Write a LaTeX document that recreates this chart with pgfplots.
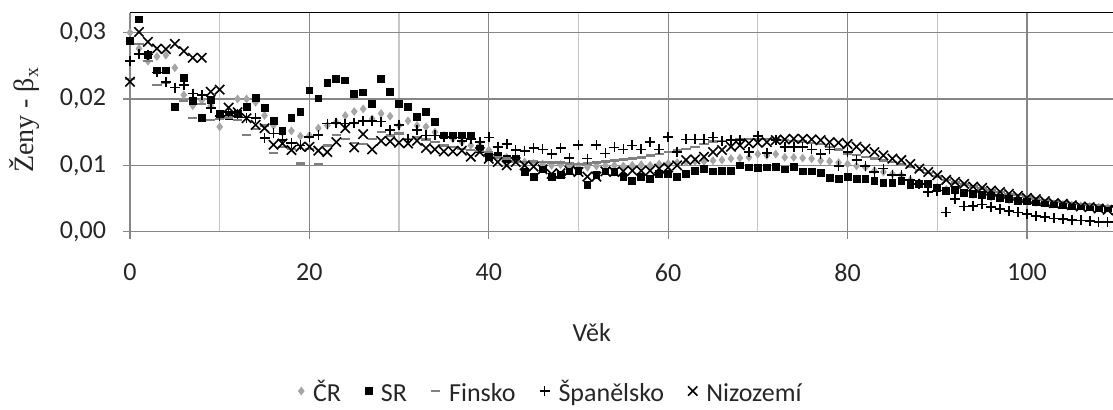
\documentclass[border=0pt]{standalone}
\usepackage{pgfplots}
\pgfplotsset{compat=1.18}
\usepackage{pgfplotstable}
\usepackage{fontspec}
\setmainfont{Carlito}
\newfontfamily\seriffont{Liberation Serif}
\definecolor{gridmaj}{HTML}{868686}
\definecolor{gridmin}{HTML}{C6C6C6}
\definecolor{crgray}{HTML}{A6A6A6}
\definecolor{figray}{HTML}{808080}
\definecolor{txt}{HTML}{262626}

\pgfplotstableread{
age cr sr fi es nl
0 0.0300 0.0288 0.0230 0.0257 0.0226
1 0.0276 0.0320 0.0283 0.0268 0.0301
2 0.0257 0.0266 0.0257 0.0267 0.0286
3 0.0264 0.0243 0.0221 0.0240 0.0276
4 0.0266 0.0243 0.0225 0.0226 0.0275
5 0.0247 0.0188 0.0200 0.0217 0.0283
6 0.0206 0.0232 0.0197 0.0221 0.0272
7 0.0190 0.0197 0.0171 0.0208 0.0262
8 0.0198 0.0172 0.0192 0.0206 0.0262
9 0.0190 0.0198 0.0168 0.0186 0.0211
10 0.0158 0.0178 0.0170 0.0174 0.0214
11 0.0175 0.0175 0.0172 0.0180 0.0187
12 0.0200 0.0178 0.0168 0.0178 0.0180
13 0.0200 0.0188 0.0146 0.0172 0.0171
14 0.0195 0.0202 0.0155 0.0171 0.0161
15 0.0175 0.0187 0.0160 0.0141 0.0156
16 0.0160 0.0167 0.0119 0.0148 0.0131
17 0.0150 0.0152 0.0128 0.0138 0.0133
18 0.0152 0.0171 0.0125 0.0134 0.0123
19 0.0144 0.0180 0.0103 0.0130 0.0128
20 0.0145 0.0213 0.0125 0.0143 0.0128
21 0.0156 0.0201 0.0102 0.0146 0.0122
22 0.0160 0.0224 0.0130 0.0163 0.0120
23 0.0165 0.0230 0.0146 0.0164 0.0135
24 0.0175 0.0228 0.0140 0.0163 0.0156
25 0.0181 0.0208 0.0134 0.0164 0.0127
26 0.0185 0.0210 0.0132 0.0167 0.0147
27 0.0170 0.0192 0.0140 0.0167 0.0124
28 0.0178 0.0230 0.0150 0.0166 0.0137
29 0.0174 0.0211 0.0145 0.0153 0.0136
30 0.0160 0.0192 0.0148 0.0161 0.0134
31 0.0167 0.0188 0.0140 0.0139 0.0133
32 0.0160 0.0173 0.0142 0.0153 0.0137
33 0.0158 0.0181 0.0139 0.0145 0.0126
34 0.0150 0.0166 0.0135 0.0145 0.0124
35 0.0145 0.0145 0.0130 0.0143 0.0121
36 0.0140 0.0145 0.0128 0.0142 0.0121
37 0.0135 0.0145 0.0125 0.0137 0.0122
38 0.0130 0.0145 0.0123 0.0140 0.0113
39 0.0130 0.0125 0.0122 0.0135 0.0120
40 0.0123 0.0113 0.0120 0.0142 0.0110
41 0.0115 0.0115 0.0112 0.0128 0.0105
42 0.0112 0.0110 0.0110 0.0132 0.0100
43 0.0108 0.0110 0.0106 0.0123 0.0105
44 0.0105 0.0090 0.0105 0.0122 0.0100
45 0.0103 0.0083 0.0106 0.0126 0.0098
46 0.0102 0.0094 0.0105 0.0124 0.0094
47 0.0100 0.0083 0.0104 0.0117 0.0087
48 0.0101 0.0085 0.0104 0.0126 0.0088
49 0.0100 0.0091 0.0103 0.0111 0.0092
50 0.0100 0.0092 0.0102 0.0131 0.0090
51 0.0097 0.0071 0.0103 0.0110 0.0083
52 0.0099 0.0086 0.0104 0.0131 0.0083
53 0.0100 0.0091 0.0106 0.0118 0.0091
54 0.0100 0.0090 0.0107 0.0127 0.0090
55 0.0099 0.0083 0.0109 0.0124 0.0091
56 0.0100 0.0077 0.0110 0.0130 0.0092
57 0.0101 0.0083 0.0112 0.0124 0.0092
58 0.0100 0.0079 0.0115 0.0135 0.0092
59 0.0102 0.0087 0.0117 0.0124 0.0095
60 0.0103 0.0087 0.0120 0.0143 0.0097
61 0.0104 0.0083 0.0123 0.0120 0.0100
62 0.0105 0.0087 0.0125 0.0139 0.0108
63 0.0106 0.0092 0.0128 0.0139 0.0109
64 0.0106 0.0095 0.0132 0.0139 0.0113
65 0.0107 0.0091 0.0136 0.0142 0.0120
66 0.0108 0.0092 0.0137 0.0136 0.0123
67 0.0110 0.0092 0.0138 0.0138 0.0128
68 0.0111 0.0100 0.0139 0.0138 0.0130
69 0.0112 0.0097 0.0140 0.0120 0.0133
70 0.0117 0.0096 0.0140 0.0144 0.0134
71 0.0115 0.0097 0.0140 0.0119 0.0135
72 0.0117 0.0098 0.0139 0.0138 0.0138
73 0.0112 0.0094 0.0138 0.0128 0.0139
74 0.0112 0.0098 0.0137 0.0128 0.0140
75 0.0111 0.0091 0.0136 0.0128 0.0140
76 0.0110 0.0091 0.0134 0.0124 0.0139
77 0.0107 0.0088 0.0132 0.0117 0.0138
78 0.0106 0.0081 0.0128 0.0124 0.0135
79 0.0104 0.0079 0.0124 0.0099 0.0134
80 0.0102 0.0082 0.0118 0.0120 0.0132
81 0.0099 0.0079 0.0116 0.0108 0.0128
82 0.0097 0.0079 0.0113 0.0099 0.0125
83 0.0092 0.0077 0.0110 0.0090 0.0120
84 0.0090 0.0073 0.0107 0.0095 0.0115
85 0.0087 0.0073 0.0105 0.0085 0.0110
86 0.0085 0.0076 0.0102 0.0085 0.0108
87 0.0078 0.0071 0.0098 0.0078 0.0102
88 0.0074 0.0072 0.0093 0.0072 0.0095
89 0.0070 0.0072 0.0088 0.0060 0.0090
90 0.0067 0.0066 0.0083 0.0062 0.0085
91 0.0064 0.0062 0.0078 0.0029 0.0078
92 0.0060 0.0063 0.0074 0.0049 0.0075
93 0.0058 0.0058 0.0071 0.0038 0.0072
94 0.0056 0.0057 0.0068 0.0039 0.0068
95 0.0054 0.0056 0.0065 0.0041 0.0066
96 0.0052 0.0054 0.0062 0.0037 0.0062
97 0.0050 0.0051 0.0060 0.0034 0.0060
98 0.0048 0.0049 0.0057 0.0031 0.0057
99 0.0047 0.0047 0.0055 0.0029 0.0054
100 0.0045 0.0047 0.0052 0.0027 0.0051
101 0.0044 0.0044 0.0050 0.0024 0.0049
102 0.0043 0.0043 0.0048 0.0022 0.0046
103 0.0042 0.0041 0.0046 0.0020 0.0043
104 0.0041 0.0040 0.0045 0.0019 0.0042
105 0.0040 0.0039 0.0043 0.0018 0.0040
106 0.0039 0.0038 0.0042 0.0017 0.0038
107 0.0038 0.0037 0.0041 0.0016 0.0037
108 0.0037 0.0036 0.0040 0.0015 0.0035
109 0.0036 0.0035 0.0039 0.0015 0.0033
110 0.0035 0.0034 0.0038 0.0014 0.0032
}\datatable

\begin{document}
\begin{tikzpicture}
\begin{axis}[
  at={(0,0)}, anchor=south west,
  scale only axis,
  width=493.3pt, height=109.5pt,
  xmin=0, xmax=110, ymin=0, ymax=0.033,
  clip=false,
  axis x line*=bottom, axis y line*=left,
  axis line style={gridmaj, line width=0.6pt},
  xtick={0,20,...,100},
  minor xtick={10,30,50,70,90,110},
  ytick={0,0.01,0.02,0.03},
  grid=both,
  major grid style={gridmaj, line width=0.6pt},
  minor grid style={gridmin, line width=0.6pt},
  tick align=outside,
  major tick length=3.5pt,
  minor tick length=0pt,
  tick style={gridmaj, line width=0.6pt},
  scaled y ticks=false,
  /pgf/number format/assume math mode=true,
  yticklabel style={/pgf/number format/fixed, /pgf/number format/fixed zerofill, /pgf/number format/precision=2, /pgf/number format/use comma},
  ticklabel style={font=\fontsize{13}{15}\selectfont, text=txt},
  xticklabel style={yshift=-9pt},
  yticklabel style={xshift=-5pt},
  xlabel={Věk},
  xlabel style={at={(axis description cs:0.468,-0.46)}, anchor=center, font=\fontsize{13}{15}\selectfont, text=txt},
  ylabel={\seriffont Ženy - β\textsubscript{x}},
  ylabel style={at={(axis description cs:-0.1065,0.51)}, anchor=center, font=\fontsize{14}{16}\selectfont, text=txt},
  legend columns=5,
  legend style={draw=none, fill=none, at={(axis description cs:0.4277,-0.755)}, anchor=center,
    font=\fontsize{13}{15}\selectfont, text=txt,
    nodes={text height=1.25ex, text depth=0.35ex},
    /tikz/every even column/.append style={column sep=10pt},
    /tikz/every odd column/.append style={column sep=2.5pt}},
  legend image post style={yshift=3pt},
  legend cell align=left,
]
\addplot[only marks, mark=diamond*, mark size=1.9pt, draw=crgray, fill=crgray] table[x=age, y=cr] {\datatable};
\addlegendentry{ČR}
\addplot[only marks, mark=square*, mark size=1.7pt, draw=black, fill=black] table[x=age, y=sr] {\datatable};
\addlegendentry{SR}
\addplot[only marks, mark=-, mark size=2.3pt, draw=figray, line width=1.2pt] table[x=age, y=fi] {\datatable};
\addlegendentry{Finsko}
\addplot[only marks, mark=+, mark size=2.5pt, draw=black, line width=0.8pt] table[x=age, y=es] {\datatable};
\addlegendentry{Španělsko}
\addplot[only marks, mark=x, mark size=3.3pt, draw=black, line width=0.8pt] table[x=age, y=nl] {\datatable};
\addlegendentry{Nizozemí}
\draw[black, line width=0.75pt] (rel axis cs:0,1) -- (rel axis cs:1,1);
\end{axis}
\pgfresetboundingbox
\path[use as bounding box] (-65pt,-89.15pt) rectangle (491.5pt,115.85pt);
\end{tikzpicture}
\end{document}
